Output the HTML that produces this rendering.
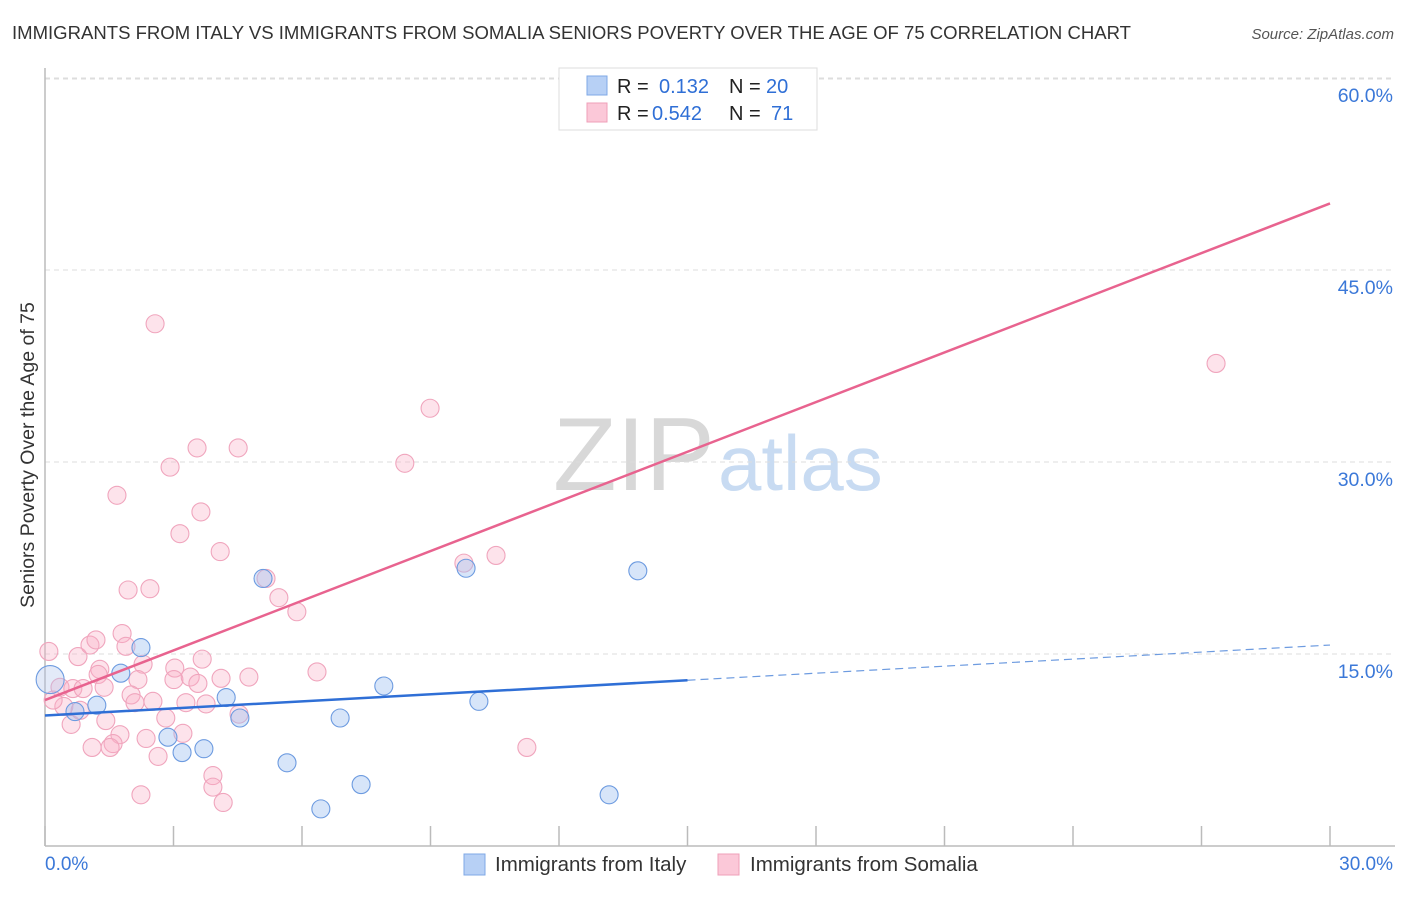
<!DOCTYPE html>
<html><head><meta charset="utf-8"><style>
body{margin:0;background:#fff;font-family:"Liberation Sans",sans-serif;}
svg text{font-family:"Liberation Sans",sans-serif;}
</style></head><body>
<svg id="chart" width="1406" height="892" viewBox="0 0 1406 892" xmlns="http://www.w3.org/2000/svg">
<text x="12" y="39" font-size="18.6" fill="#333" textLength="1119" lengthAdjust="spacingAndGlyphs">IMMIGRANTS FROM ITALY VS IMMIGRANTS FROM SOMALIA SENIORS POVERTY OVER THE AGE OF 75 CORRELATION CHART</text>
<text x="1394" y="39" font-size="15" fill="#555" font-style="italic" text-anchor="end">Source: ZipAtlas.com</text>
<g>
<text x="553" y="490" font-size="104" fill="#d8d8d8" font-family="Liberation Serif,serif">ZIP</text>
<text x="718" y="490" font-size="78" fill="#c8dbf2">atlas</text>
</g>
<g id="grid"></g>
<g id="axes"></g>
<g id="marks"></g>
<text transform="translate(34,455) rotate(-90)" font-size="19.5" fill="#333" text-anchor="middle">Seniors Poverty Over the Age of 75</text>
<g>
<rect x="559" y="68" width="258" height="62" fill="#fff" stroke="#ddd"/>
<rect x="587" y="76" width="20" height="19" fill="#b7d0f5" stroke="#7fa8e6"/>
<rect x="587" y="103" width="20" height="19" fill="#fbc8d8" stroke="#ef9fb8"/>
<text x="617" y="93" font-size="20" fill="#222">R = </text><text x="659" y="93" font-size="20" fill="#2f6fd6">0.132</text>
<text x="729" y="93" font-size="20" fill="#222">N = </text><text x="766" y="93" font-size="20" fill="#2f6fd6">20</text>
<text x="617" y="120" font-size="20" fill="#222">R = </text><text x="652" y="120" font-size="20" fill="#2f6fd6">0.542</text>
<text x="729" y="120" font-size="20" fill="#222">N = </text><text x="771" y="120" font-size="20" fill="#2f6fd6">71</text>
</g>
<g>
<rect x="464" y="854" width="21" height="21" fill="#b7d0f5" stroke="#7fa8e6"/>
<text x="495" y="871" font-size="20.5" fill="#333">Immigrants from Italy</text>
<rect x="718" y="854" width="21" height="21" fill="#fbc8d8" stroke="#ef9fb8"/>
<text x="750" y="871" font-size="20.5" fill="#333">Immigrants from Somalia</text>
</g>
</svg>
<script>
const yTicks=[15,30,45,60];
const yTickLabels=["15.0%","30.0%","45.0%","60.0%"];
const xTickLabels=["0.0%","30.0%"];
const italyX=[0.12,0.70,1.21,1.77,2.24,2.87,3.20,3.71,4.23,4.55,5.09,5.65,6.44,6.89,7.38,7.91,9.83,10.13,13.17,13.84];
const italyY=[13.0,10.5,11.0,13.5,15.5,8.5,7.3,7.6,11.6,10.0,20.9,6.5,2.9,10.0,4.8,12.5,21.7,11.3,4.0,21.5];
const somaliaX=[2.57,3.55,2.92,4.51,1.68,3.15,3.64,4.09,1.94,2.45,5.16,5.46,5.88,8.99,8.40,9.78,10.53,6.35,11.25,27.34,14.05,0.09,0.77,1.05,1.19,1.80,1.89,2.29,1.28,1.24,1.38,2.17,3.03,3.01,3.39,3.57,3.67,4.11,4.76,2.01,2.10,2.52,3.29,3.76,4.53,2.82,1.42,0.61,0.44,0.35,0.65,0.89,0.19,0.82,1.75,1.59,1.52,1.10,2.36,3.22,2.64,3.92,3.92,4.16,2.24];
const somaliaY=[40.8,31.1,29.6,31.1,27.4,24.4,26.1,23.0,20.0,20.1,20.9,19.4,18.3,34.2,29.9,22.1,22.7,13.6,7.7,37.7,59.8,15.2,14.8,15.7,16.1,16.6,15.6,14.2,13.8,13.4,12.4,13.0,13.9,13.0,13.2,12.7,14.6,13.1,13.2,11.8,11.2,11.3,11.2,11.1,10.3,10.0,9.8,9.5,10.9,12.4,12.3,12.3,11.4,10.6,8.7,8.0,7.7,7.7,8.4,8.8,7.0,5.5,4.6,3.4,4.0];
const italyTrend=[10.2,15.7];
const somaliaTrend=[11.4,50.2];
const NS="http://www.w3.org/2000/svg";
const X0=45,X1=1330,Y0=846,PPY=192/15;
function sx(v){return X0+(X1-X0)*v/30;}
function sy(v){return Y0-v*PPY;}
function mk(tag,attrs,parent){const e=document.createElementNS(NS,tag);for(const k in attrs)e.setAttribute(k,attrs[k]);parent.appendChild(e);return e;}
const grid=document.getElementById('grid'),axes=document.getElementById('axes'),marks=document.getElementById('marks');
mk('line',{x1:45,y1:79,x2:1395,y2:79,stroke:'#ddd','stroke-dasharray':'5,4'},grid);
yTicks.forEach((t,i)=>{
  const l=mk('line',{x1:45,y1:sy(t),x2:1395,y2:sy(t),stroke:'#ddd','stroke-dasharray':'5,4'},grid);
  
  
  const tx=mk('text',{x:1393,y:sy(t)+24,'font-size':19.5,fill:'#3b78d8','text-anchor':'end'},axes);
  tx.textContent=yTickLabels[i];
  
  
});
mk('line',{x1:45,y1:68,x2:45,y2:846,stroke:'#bbb','stroke-width':1.5},axes);
mk('line',{x1:45,y1:846,x2:1395,y2:846,stroke:'#bbb','stroke-width':1.5},axes);
for(let i=0;i<=10;i++){const x=sx(i*3);mk('line',{x1:x,y1:826,x2:x,y2:846,stroke:'#bbb','stroke-width':1.5},axes);}
const xl0=mk('text',{x:45,y:870,'font-size':19,fill:'#3b78d8'},axes);xl0.textContent=xTickLabels[0];


const xl1=mk('text',{x:1393,y:870,'font-size':19,fill:'#3b78d8','text-anchor':'end'},axes);xl1.textContent=xTickLabels[1];


somaliaX.forEach((x,i)=>{
  const c=mk('circle',{cx:sx(x),cy:sy(somaliaY[i]),r:9,fill:'rgba(248,175,198,0.35)',stroke:'#f0a5bd','stroke-width':1.1},marks);
  
  
});
italyX.forEach((x,i)=>{
  const c=mk('circle',{cx:sx(x),cy:sy(italyY[i]),r:i===0?14:9,fill:i===0?'rgba(175,195,235,0.35)':'rgba(160,192,240,0.42)',stroke:'#6d9be0','stroke-width':1.1},marks);
  
  
});
const it=(x)=>italyTrend[0]+(italyTrend[1]-italyTrend[0])*x/30;
const l1=mk('line',{x1:sx(0),y1:sy(it(0)),x2:sx(15),y2:sy(it(15)),stroke:'#2f6fd6','stroke-width':2.5},marks);


const l2=mk('line',{x1:sx(15),y1:sy(it(15)),x2:sx(30),y2:sy(it(30)),stroke:'#6d9be0','stroke-width':1.2,'stroke-dasharray':'8,5'},marks);


const l3=mk('line',{x1:sx(0),y1:sy(somaliaTrend[0]),x2:sx(30),y2:sy(somaliaTrend[1]),stroke:'#e8638f','stroke-width':2.5},marks);


</script>
</body></html>
